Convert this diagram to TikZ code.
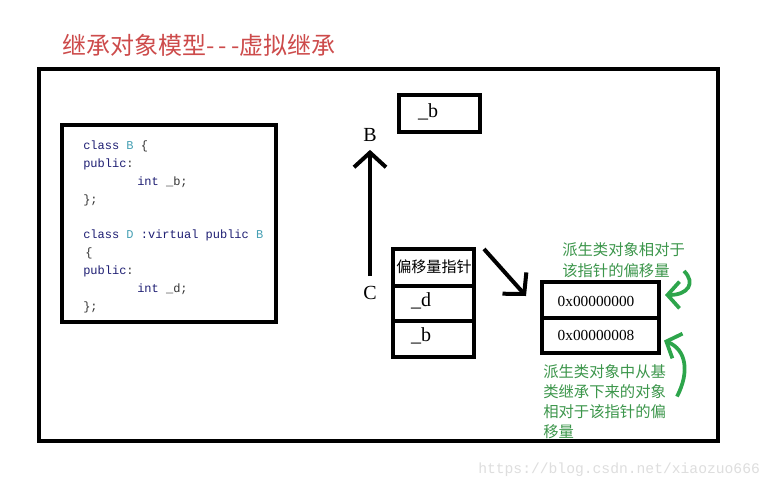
\documentclass[tikz,border=0pt]{standalone}
\usepackage{fontspec}
\setmainfont{Liberation Serif}
\setmonofont{Liberation Mono}
\newfontfamily\cjk{Noto Sans CJK SC}
\usetikzlibrary{arrows.meta,calc}
\definecolor{titlered}{RGB}{205,75,75}
\definecolor{kw}{RGB}{30,30,115}
\definecolor{cls}{RGB}{70,160,180}
\definecolor{grn}{RGB}{45,165,75}
\definecolor{grntext}{RGB}{60,150,75}
\definecolor{wm}{RGB}{222,222,222}
\tikzset{
  frame/.style={draw=black,line width=3pt},
  cell/.style={draw=black,line width=3pt,inner sep=0pt,minimum width=60.75pt},
  codeline/.style={anchor=west,inner sep=0pt,font=\ttfamily\fontsize{9}{10}\selectfont,text=black!80},
  serif/.style={inner sep=0pt,font=\fontsize{15}{17}\selectfont},
  hex/.style={inner sep=0pt,font=\fontsize{11.5}{13}\selectfont},
  blackarrow/.style={line width=3pt,-{Straight Barb[length=11pt,width=24pt]}},
  greenarrow/.style={draw=grn,line width=2.8pt,-{Straight Barb[length=9pt,width=20pt]}},
  note/.style={anchor=north west,inner sep=0pt,align=left,text=grntext,font=\cjk\fontsize{11.5}{15}\selectfont},
}
\newcommand{\kw}[1]{{\color{kw}#1}}
\newcommand{\cl}[1]{{\color{cls}#1}}
\begin{document}
\begin{tikzpicture}[x=0.75pt,y=-0.75pt]
\useasboundingbox (0,0) rectangle (773,486);
\fill[white] (0,0) rectangle (773,486);

% title
\node[anchor=west,inner sep=0pt,text=titlered,font=\cjk\fontsize{18}{20}\selectfont] (title) at (62,45) {继承对象模型{\addfontfeature{LetterSpace=18}---}虚拟继承};

% outer frame
\draw[frame] (39,69) rectangle (718,441);

% code box
\draw[frame] (62,125) rectangle (276,322);
\node[codeline] (c1) at (83,146) {\kw{class} \cl{B} \{};
\node[codeline] (c2) at (83,164) {\kw{public}:};
\node[codeline] (c3) at (137,182) {\kw{int} \_b;};
\node[codeline] (c4) at (83,200) {\};};
\node[codeline] (c5) at (83,235) {\kw{class} \cl{D} \kw{:virtual public} \cl{B}};
\node[codeline] (c6) at (85,253) {\{};
\node[codeline] (c7) at (83,271) {\kw{public}:};
\node[codeline] (c8) at (137,289) {\kw{int} \_d;};
\node[codeline] (c9) at (83,307) {\};};

% base object box
\node[cell,minimum height=27.75pt] (btop) at (439.5,113.5) {};
\node[serif] (btopt) at (428,112) {\_b};

% B / C labels and arrow
\node[serif] (Blab) at (370,135) {B};
\node[serif] (Clab) at (370,293) {C};
\draw[blackarrow] ($(Clab.north)+(0,-10)$) -- ($(Blab.south)+(0,8)$);

% derived object stack
\node[cell,minimum height=27.75pt] (ptr) at (433.5,267.5) {};
\node[inner sep=0pt,font=\cjk\fontsize{11.3}{13}\selectfont] (ptrt) at (434,267) {偏移量指针};
\node[cell,minimum height=26.25pt] (dd) at (433.5,303.5) {};
\node[serif] (ddt) at (421,301) {\_d};
\node[cell,minimum height=27pt] (bb) at (433.5,339) {};
\node[serif] (bbt) at (421,336) {\_b};

% offset table
\node[cell,minimum width=87.75pt,minimum height=27pt] (off1) at (600.5,300) {};
\node[hex] (off1t) at (596,301) {0x00000000};
\node[cell,minimum width=87.75pt,minimum height=26.25pt] (off2) at (600.5,335.5) {};
\node[hex] (off2t) at (596,335) {0x00000008};

\draw[blackarrow] ($(ptr.north east)+(8,2)$) -- ($(off1.west)+(-14,-4)$);

% green notes
\node[note,font=\cjk\fontsize{11.5}{16}\selectfont] (n1) at (562,242) {派生类对象相对于\\该指针的偏移量};
\node[note] (n2) at (543,364) {派生类对象中从基\\类继承下来的对象\\相对于该指针的偏\\移量};

\draw[greenarrow] ($(off1.east)+(23,-29)$) .. controls ($(off1.east)+(35,-17)$) and ($(off1.east)+(27,-5)$) .. ($(off1.east)+(4,-5)$);
\draw[greenarrow] ($(off2.east)+(16,61)$) .. controls ($(off2.east)+(29,36)$) and ($(off2.east)+(25,14)$) .. ($(off2.east)+(3,5)$);

% watermark
\node[anchor=west,inner sep=0pt,text=wm,font=\ttfamily\fontsize{11}{13}\selectfont] (wmk) at (478,470) {https://blog.csdn.net/xiaozuo666};
\end{tikzpicture}
\end{document}
